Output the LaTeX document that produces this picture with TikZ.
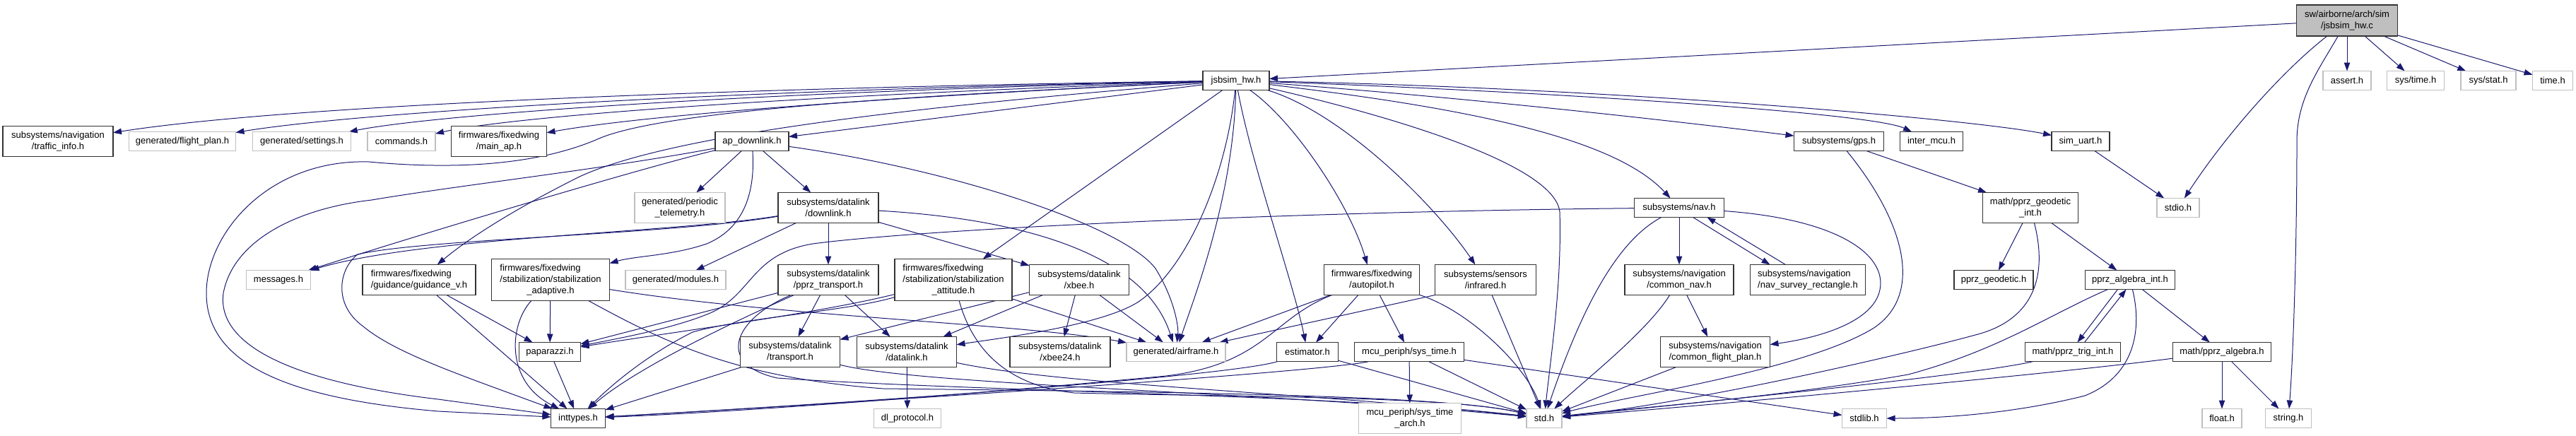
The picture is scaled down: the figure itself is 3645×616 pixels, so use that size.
\documentclass[tikz,border=0pt]{standalone}
\usepackage{fontspec}
\setmainfont{Liberation Sans}
\usetikzlibrary{arrows.meta,calc}
\pgfdeclarelayer{edges}
\pgfsetlayers{edges,main}
\definecolor{edgec}{HTML}{191970}
\definecolor{extc}{HTML}{BFBFBF}
\definecolor{mainfill}{HTML}{BFBFBF}
\newcommand\nodefont{\fontsize{6.5}{8}\selectfont}
\tikzset{
  doc/.style 2 args={draw=black!80, line width=0.6pt, fill=white, minimum width=#1*0.5pt, minimum height=#2*0.5pt, inner sep=0pt, outer sep=0pt, align=center, font=\nodefont},
  ext/.style 2 args={doc={#1}{#2}, draw=extc},
  mainnd/.style 2 args={doc={#1}{#2}, fill=mainfill},
  dep/.style={draw=edgec, line width=0.5pt, -{Triangle[length=6pt,width=4.2pt]}},
}
\begin{document}
\begin{tikzpicture}[x=0.5pt,y=-0.5pt]
\useasboundingbox (0,0) rectangle (3645,616);
% row 0/1
\node[mainnd={143}{44}] (c) at (3321,29) {sw/airborne/arch/sim\\/jsbsim\_hw.c};
\node[doc={94}{27}] (h) at (1749,114) {jsbsim\_hw.h};
\node[ext={68}{27}] (assert) at (3321,114) {assert.h};
\node[ext={81}{27}] (systime) at (3418,114) {sys/time.h};
\node[ext={78}{27}] (sysstat) at (3521,114) {sys/stat.h};
\node[ext={57}{27}] (timeh) at (3612,114) {time.h};
% row 2
\node[doc={156}{43}] (traffic) at (82,200) {subsystems/navigation\\/traffic\_info.h};
\node[ext={151}{27}] (fplan) at (258,200) {generated/flight\_plan.h};
\node[ext={139}{27}] (settings) at (427,200) {generated/settings.h};
\node[ext={96}{27}] (commands) at (568,200) {commands.h};
\node[doc={135}{43}] (mainap) at (706,200) {firmwares/fixedwing\\/main\_ap.h};
\node[doc={104}{27}] (apdl) at (1064,200) {ap\_downlink.h};
\node[doc={127}{27}] (gps) at (2602,200) {subsystems/gps.h};
\node[doc={89}{27}] (intermcu) at (2733,200) {inter\_mcu.h};
\node[doc={82}{27}] (simuart) at (2944,200) {sim\_uart.h};
% row 3
\node[ext={128}{43}] (periodic) at (962,294) {generated/periodic\\\_telemetry.h};
\node[doc={142}{43}] (downlink) at (1172,294) {subsystems/datalink\\/downlink.h};
\node[doc={127}{27}] (nav) at (2376,294) {subsystems/nav.h};
\node[doc={135}{43}] (geoint) at (2873,294) {math/pprz\_geodetic\\\_int.h};
\node[ext={60}{27}] (stdio) at (3082,294) {stdio.h};
% row 4
\node[ext={91}{27}] (messages) at (394,396) {messages.h};
\node[doc={160}{43}, align=left] (guidv) at (593,396) {firmwares/fixedwing\\/guidance/guidance\_v.h};
\node[doc={167}{59}] (stabad) at (779,396) {\begin{tabular}{@{}l@{}}firmwares/fixedwing\\/stabilization/stabilization\\\multicolumn{1}{@{}c@{}}{\_adaptive.h}\end{tabular}};
\node[ext={142}{27}] (modules) at (956,396) {generated/modules.h};
\node[doc={142}{43}] (pprzt) at (1172,396) {subsystems/datalink\\/pprz\_transport.h};
\node[doc={166}{59}] (stabatt) at (1349,396) {\begin{tabular}{@{}l@{}}firmwares/fixedwing\\/stabilization/stabilization\\\multicolumn{1}{@{}c@{}}{\_attitude.h}\end{tabular}};
\node[doc={141}{43}] (xbee) at (1527,396) {subsystems/datalink\\/xbee.h};
\node[doc={135}{43}] (autopilot) at (1941,396) {firmwares/fixedwing\\/autopilot.h};
\node[doc={143}{43}] (infrared) at (2102,396) {subsystems/sensors\\/infrared.h};
\node[doc={154}{43}] (cnav) at (2376,396) {subsystems/navigation\\/common\_nav.h};
\node[doc={163}{43}, align=left] (survey) at (2558,396) {subsystems/navigation\\/nav\_survey\_rectangle.h};
\node[doc={112}{27}] (geod) at (2821,396) {pprz\_geodetic.h};
\node[doc={127}{27}] (algint) at (3014,396) {pprz\_algebra\_int.h};
% row 5
\node[doc={87}{27}] (paparazzi) at (778,498) {paparazzi.h};
\node[doc={141}{43}] (transport) at (1118,498) {subsystems/datalink\\/transport.h};
\node[doc={141}{43}] (datalink) at (1283,498) {subsystems/datalink\\/datalink.h};
\node[doc={142}{43}] (xbee24) at (1500,498) {subsystems/datalink\\/xbee24.h};
\node[ext={140}{27}] (airframe) at (1664,498) {generated/airframe.h};
\node[doc={87}{27}] (estimator) at (1850,498) {estimator.h};
\node[doc={155}{27}] (systimeh) at (1994,498) {mcu\_periph/sys\_time.h};
\node[doc={155}{43}] (cfp) at (2427,498) {subsystems/navigation\\/common\_flight\_plan.h};
\node[doc={135}{27}] (trig) at (2933,498) {math/pprz\_trig\_int.h};
\node[doc={139}{27}] (alg) at (3144,498) {math/pprz\_algebra.h};
% row 6
\node[doc={77}{27}] (inttypes) at (818,592) {inttypes.h};
\node[ext={95}{27}] (dlproto) at (1284,592) {dl\_protocol.h};
\node[ext={145}{43}] (stimearch) at (1995,592) {mcu\_periph/sys\_time\\\_arch.h};
\node[ext={50}{27}] (std) at (2185,592) {std.h};
\node[ext={63}{27}] (stdlib) at (2638,592) {stdlib.h};
\node[ext={56}{27}] (float) at (3144,592) {float.h};
\node[ext={65}{27}] (stringh) at (3238,592) {string.h};

\begin{pgfonlayer}{edges}
% jsbsim_hw.c
\draw[dep] (c) -- (h);
\draw[dep] (c) .. controls (3230,100) and (3150,190) .. (stdio);
\draw[dep] (c) .. controls (3280,100) and (3250,140) .. (3250,200) .. controls (3250,350) and (3245,500) .. (stringh);
\draw[dep] (c) -- (assert);
\draw[dep] (c) -- (systime);
\draw[dep] (c) -- (sysstat);
\draw[dep] (c) -- (timeh);
% jsbsim_hw.h
\draw[dep] (h) .. controls (1000,125) and (400,150) .. (traffic);
\draw[dep] (h) .. controls (1000,128) and (500,160) .. (fplan);
\draw[dep] (h) .. controls (1000,132) and (600,165) .. (settings);
\draw[dep] (h) .. controls (1000,140) and (700,170) .. (commands);
\draw[dep] (h) .. controls (1200,140) and (900,165) .. (mainap);
\draw[dep] (h) -- (apdl);
\draw[dep] (h) .. controls (1300,135) and (950,155) .. (850,195) .. controls (760,235) and (640,240) .. (522,229) .. controls (380,225) and (292,330) .. (292,415) .. controls (292,520) and (420,565) .. (620,582) -- (inttypes);
\draw[dep] (h) .. controls (1300,150) and (950,190) .. (820,250) .. controls (720,300) and (660,340) .. (guidv);
\draw[dep] (h) -- (stabatt);
\draw[dep] (h) .. controls (1735,250) and (1680,380) .. (1611,427) .. controls (1560,460) and (1420,478) .. (datalink);
\draw[dep] (h) .. controls (1745,280) and (1690,420) .. (airframe);
\draw[dep] (h) .. controls (1770,230) and (1830,400) .. (estimator);
\draw[dep] (h) .. controls (1830,170) and (1910,290) .. (autopilot);
\draw[dep] (h) .. controls (1900,160) and (2030,290) .. (infrared);
\draw[dep] (h) .. controls (1950,160) and (2200,230) .. (2207,300) .. controls (2210,400) and (2195,500) .. (std);
\draw[dep] (h) .. controls (2050,150) and (2280,190) .. (nav);
\draw[dep] (h) .. controls (2100,140) and (2400,175) .. (gps);
\draw[dep] (h) .. controls (2200,130) and (2650,160) .. (intermcu);
\draw[dep] (h) .. controls (2300,125) and (2800,170) .. (simuart);
% ap_downlink
\draw[dep] (apdl) -- (periodic);
\draw[dep] (apdl) -- (downlink);
\draw[dep] (apdl) .. controls (1068,260) and (1060,320) .. (1000,345) .. controls (950,362) and (900,362) .. (stabad);
\draw[dep] (apdl) .. controls (1350,240) and (1590,320) .. (1635,380) .. controls (1660,420) and (1668,460) .. (airframe);
\draw[dep] (apdl) .. controls (900,240) and (600,330) .. (messages);
\draw[dep] (apdl) .. controls (850,240) and (650,262) .. (526,283) .. controls (420,295) and (330,340) .. (316,415) .. controls (305,500) and (450,545) .. (620,565) -- (inttypes);
% downlink
\draw[dep] (downlink) .. controls (950,330) and (600,335) .. (messages);
\draw[dep] (downlink) .. controls (950,332) and (600,338) .. (506,360) .. controls (480,380) and (470,430) .. (514,462) .. controls (560,500) and (650,530) .. (inttypes);
\draw[dep] (downlink) -- (modules);
\draw[dep] (downlink) -- (pprzt);
\draw[dep] (downlink) -- (xbee);
\draw[dep] (downlink) .. controls (1450,310) and (1620,360) .. (airframe);
% stabilization adaptive
\draw[dep] (stabad) -- (paparazzi);
\draw[dep] (stabad) .. controls (720,460) and (715,540) .. (inttypes);
\draw[dep] (stabad) .. controls (1100,448) and (1450,458) .. (airframe);
\draw[dep] (stabad) .. controls (950,490) and (1050,535) .. (1250,550) .. controls (1700,555) and (2050,560) .. (std);
% guidance
\draw[dep] (guidv) -- (paparazzi);
\draw[dep] (guidv) -- (inttypes);
% pprz_transport
\draw[dep] (pprzt) -- (transport);
\draw[dep] (pprzt) -- (datalink);
\draw[dep] (pprzt) -- (paparazzi);
\draw[dep] (pprzt) .. controls (1050,450) and (900,520) .. (inttypes);
\draw[dep] (pprzt) .. controls (1040,450) and (1010,515) .. (1100,535) .. controls (1400,555) and (1900,558) .. (std);
% transport, datalink
\draw[dep] (transport) -- (inttypes);
\draw[dep] (transport) .. controls (1300,545) and (1800,555) .. (std);
\draw[dep] (datalink) -- (dlproto);
\draw[dep] (datalink) .. controls (1500,545) and (1850,555) .. (std);
% xbee
\draw[dep] (xbee) -- (xbee24);
\draw[dep] (xbee) -- (airframe);
\draw[dep] (xbee) -- (datalink);
\draw[dep] (xbee) -- (transport);
% stabilization attitude
\draw[dep] (stabatt) -- (airframe);
\draw[dep] (stabatt) .. controls (1150,445) and (950,470) .. (paparazzi);
\draw[dep] (stabatt) .. controls (1200,440) and (1050,450) .. (980,470) .. controls (920,500) and (870,540) .. (inttypes);
\draw[dep] (stabatt) .. controls (1375,490) and (1420,545) .. (1520,556) .. controls (1750,562) and (2050,560) .. (std);
% autopilot
\draw[dep] (autopilot) -- (estimator);
\draw[dep] (autopilot) -- (systimeh);
\draw[dep] (autopilot) .. controls (2080,440) and (2160,520) .. (std);
\draw[dep] (autopilot) -- (airframe);
\draw[dep] (autopilot) .. controls (1800,450) and (1790,515) .. (1650,532) .. controls (1300,565) and (1000,585) .. (inttypes);
% infrared
\draw[dep] (infrared) -- (std);
\draw[dep] (infrared.south west) -- (airframe);
% estimator
\draw[dep] (estimator) -- (std);
\draw[dep] (estimator) .. controls (1750,530) and (1300,565) .. (inttypes);
% sys_time
\draw[dep] (systimeh) -- (stimearch);
\draw[dep] (systimeh) -- (std);
\draw[dep] (systimeh) -- (stdlib);
\draw[dep] (systimeh) .. controls (1880,525) and (1300,565) .. (inttypes);
% nav
\draw[dep] (nav) .. controls (1800,300) and (1300,325) .. (1150,345) .. controls (1060,360) and (1065,420) .. (1000,445) .. controls (950,465) and (880,478) .. (paparazzi);
\draw[dep] (nav) .. controls (2290,340) and (2240,430) .. (std);
\draw[dep] (nav) -- (cnav);
\draw[dep] ($(nav.south east)+(-44,0)$) -- ($(survey.north west)+(28,0)$);
\draw[dep] ($(survey.north west)+(50,0)$) -- ($(nav.south east)+(-24,0)$);
\draw[dep] (nav) .. controls (2600,310) and (2670,360) .. (2660,410) .. controls (2650,460) and (2560,480) .. (cfp);
% navigation
\draw[dep] (cnav) .. controls (2330,470) and (2240,540) .. (std);
\draw[dep] (cnav) -- (cfp);
\draw[dep] (cfp) -- (std);
% gps, geodetic, algebra
\draw[dep] (gps) -- (geoint);
\draw[dep] (gps) .. controls (2700,320) and (2720,420) .. (2650,465) .. controls (2550,525) and (2300,560) .. (std);
\draw[dep] (geoint) -- (geod);
\draw[dep] (geoint) -- (algint);
\draw[dep] (geoint) .. controls (2900,400) and (2870,455) .. (2795,474) .. controls (2700,500) and (2400,570) .. (std);
\draw[dep] ($(algint.south west)+(46,0)$) -- ($(trig.north west)+(74,0)$);
\draw[dep] ($(trig.north west)+(84,0)$) -- ($(algint.south west)+(58,0)$);
\draw[dep] (algint) -- (alg);
\draw[dep] (algint) .. controls (2900,445) and (2830,495) .. (2700,530) .. controls (2500,565) and (2300,578) .. (std);
\draw[dep] (algint) .. controls (3030,460) and (3025,530) .. (2950,560) .. controls (2850,585) and (2750,592) .. (stdlib);
\draw[dep] (trig) .. controls (2800,530) and (2400,570) .. (std);
\draw[dep] (alg) -- (float);
\draw[dep] (alg) -- (stringh);
\draw[dep] (alg) .. controls (2900,530) and (2400,575) .. (std);
% misc
\draw[dep] (simuart) -- (stdio);
\draw[dep] (paparazzi) -- (inttypes);
\end{pgfonlayer}
\end{tikzpicture}
\end{document}
